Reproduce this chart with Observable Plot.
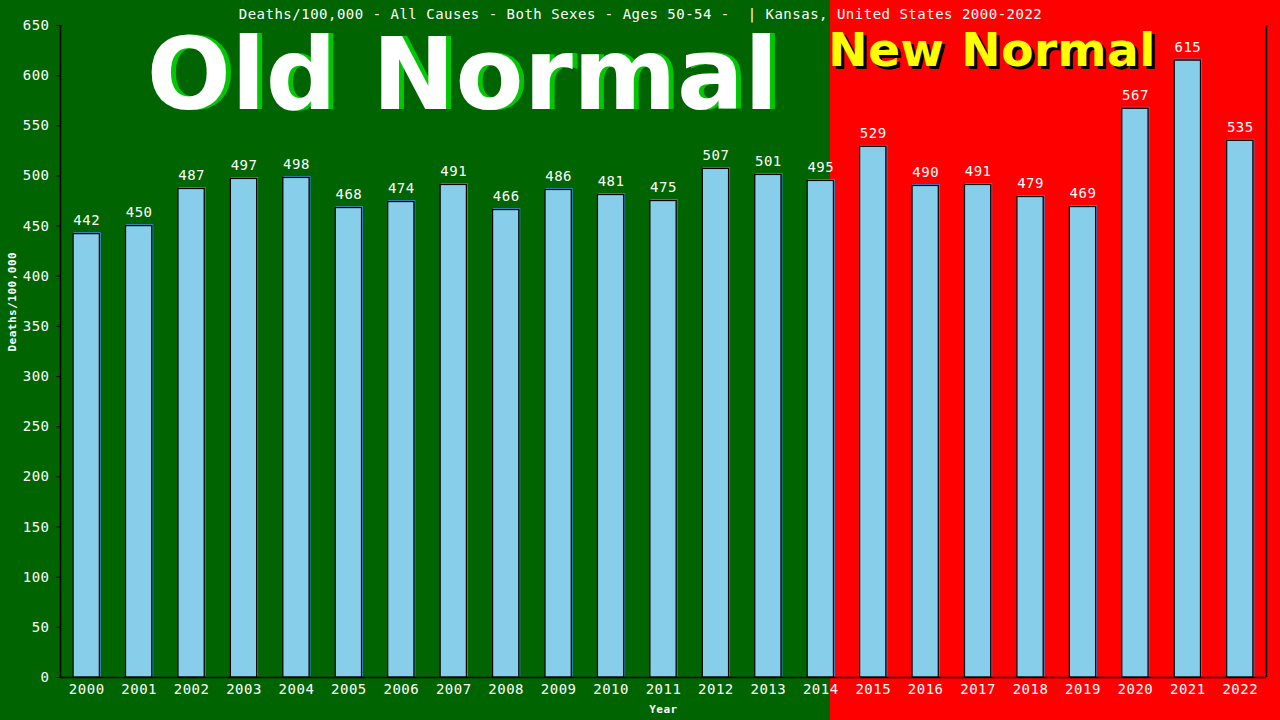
<!DOCTYPE html>
<html>
<head>
<meta charset="utf-8">
<script src="https://cdn.jsdelivr.net/npm/d3@7"></script>
<script src="https://cdn.jsdelivr.net/npm/@observablehq/plot@0.6"></script>
<style>
  html, body { margin: 0; padding: 0; background: #006400; }
  #chart { width: 1280px; height: 720px;
    background: linear-gradient(to right, #006400 0px, #006400 830px, #ff0000 830px, #ff0000 1280px); }
  #chart svg { display: block; }
</style>
</head>
<body>
<div id="chart"></div>
<script>
const years = ["2000","2001","2002","2003","2004","2005","2006","2007","2008","2009","2010","2011",
  "2012","2013","2014","2015","2016","2017","2018","2019","2020","2021","2022"];
const deaths = [442,450,487,497,498,468,474,491,466,486,481,475,507,501,495,529,490,491,479,469,567,615,535];
const yTicks = [0,50,100,150,200,250,300,350,400,450,500,550,600,650];
const titleText = "Deaths/100,000 - All Causes - Both Sexes - Ages 50-54 -  | Kansas, United States 2000-2022";
const yLabel = "Deaths/100,000";
const xLabel = "Year";
const oldLabel = "Old Normal";
const newLabel = "New Normal";

const data = years.map((y, i) => ({year: y, value: deaths[i]}));
const mono = "DejaVu Sans Mono";
const big = "DejaVu Sans";

const chart = Plot.plot({
  width: 1280,
  height: 720,
  marginLeft: 60,
  marginRight: 14,
  marginTop: 25,
  marginBottom: 43,
  style: {background: "transparent", color: "white", fontFamily: mono, fontSize: "14px", letterSpacing: "0.5px"},
  x: {domain: years, paddingInner: 0.5, paddingOuter: 0.25, round: false, label: null},
  y: {domain: [0, 650], label: null},
  marks: [
    // big annotations
    Plot.text([oldLabel], {x: () => "2007", y: () => 598, text: d => d, dx: 14, fill: "#00c800",
      fontFamily: big, fontWeight: "bold", fontSize: 99, lineAnchor: "middle"}),
    Plot.text([oldLabel], {x: () => "2007", y: () => 598, text: d => d, dx: 9, fill: "white",
      fontFamily: big, fontWeight: "bold", fontSize: 99, lineAnchor: "middle"}),
    Plot.text([newLabel], {x: () => "2017", y: () => 625, text: d => d, dx: 17, dy: 3, fill: "black",
      fontFamily: big, fontWeight: "bold", fontSize: 47, lineAnchor: "middle"}),
    Plot.text([newLabel], {x: () => "2017", y: () => 625, text: d => d, dx: 14, fill: "#ffff00",
      fontFamily: big, fontWeight: "bold", fontSize: 47, lineAnchor: "middle"}),
    // bar shadow outline
    Plot.barY(data, {x: "year", y: "value", fill: "none", stroke: "#3f86c8", strokeWidth: 1, dx: 1, dy: -1}),
    Plot.barY(data, {x: "year", y: "value", fill: "#87ceeb", stroke: "black", strokeWidth: 1.2}),
    // value labels
    Plot.text(data, {x: "year", y: "value", text: d => String(d.value), fill: "white",
      lineAnchor: "bottom", dy: -9, fontSize: 14}),
    // axes
    Plot.axisY({ticks: yTicks, tickSize: 4, tickPadding: 7, stroke: "black", fill: "white", fontSize: 14, label: null}),
    Plot.axisX({tickSize: 0, tickPadding: 7, fill: "white", fontSize: 14, label: null}),
    Plot.ruleY([0], {stroke: "black", strokeWidth: 1.5}),
    Plot.ruleX([years[0]], {y1: 0, y2: 650, stroke: "black", strokeWidth: 1.5, dx: -26.2}),
    Plot.ruleX([years[years.length - 1]], {y1: 0, y2: 650, stroke: "black", strokeWidth: 1.5, dx: 26.2}),
    // title & axis labels
    Plot.text([titleText], {frameAnchor: "top", text: d => d, lineAnchor: "bottom", dy: -7, dx: -23, fill: "white", fontSize: 14}),
    Plot.text([yLabel], {frameAnchor: "left", text: d => d, rotate: -90, dx: -48, fill: "white",
      fontSize: 11, fontWeight: "bold", lineAnchor: "middle"}),
    Plot.text([xLabel], {frameAnchor: "bottom", text: d => d, lineAnchor: "bottom", dy: 35, fill: "white",
      fontSize: 11, fontWeight: "bold"})
  ]
});
document.getElementById("chart").appendChild(chart);
</script>
</body>
</html>
